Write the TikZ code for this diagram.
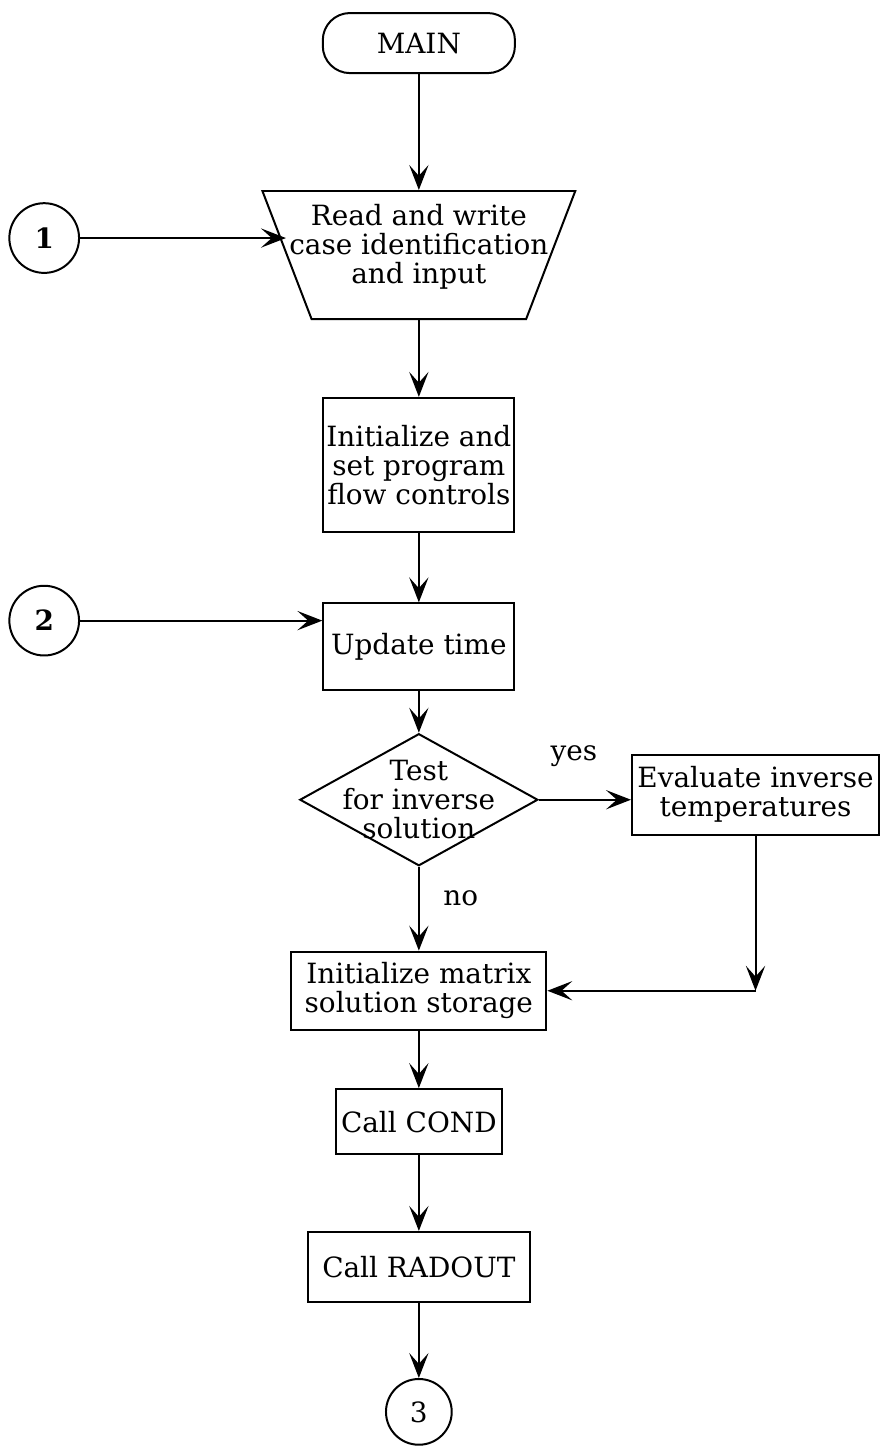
\documentclass[tikz,border=0pt]{standalone}
\usepackage{fontspec}
\setmainfont{DejaVu Serif}
\usetikzlibrary{shapes.geometric,arrows.meta}
\begin{document}
\begin{tikzpicture}[node distance=3cm, line width=1pt, >={Stealth[length=4.4mm,width=3.4mm,inset=1.9mm]}, every node/.style={font=\fontsize{14}{14.5}\selectfont}]
    \tikzstyle{terminal} = [rectangle, rounded corners=0.48cm, minimum width=3.39cm, minimum height=1.06cm, draw, align=center]
    \tikzstyle{io} = [trapezium, shape border rotate=180, trapezium angle=69, trapezium stretches body, minimum width=5.52cm, inner sep=0pt, draw]
    \tikzstyle{process} = [rectangle, minimum width=3.37cm, minimum height=1.4cm, inner sep=1pt, draw, align=center]
    \tikzstyle{decision} = [diamond, minimum width=4.2cm, minimum height=2.33cm, inner sep=0pt, draw]
    \tikzstyle{connector} = [circle, minimum size=1.23cm, inner sep=0pt, draw]
    \useasboundingbox (-7.39,0.76) rectangle (8.22,-24.77);

    % Main line
    \node [terminal] (main) {MAIN};
    \node [io, below of=main, node distance=3.74cm, label={[align=center, yshift=0.15cm]center:Read and write\\case identification\\and input}] (read) {\rule{0pt}{2.26cm}};
    \node [process, below of=read, node distance=3.7cm, minimum height=2.36cm] (init) {Initialize and\\set program\\flow controls};
    \node [process, below of=init, node distance=3.21cm, minimum height=1.53cm] (update) {Update time};
    \node [decision, below of=update, node distance=2.7cm, label={[align=center]center:Test\\for inverse\\solution}] (test) {};
    \node [process, below of=test, node distance=3.37cm, minimum width=4.5cm, minimum height=1.38cm] (matrix) {Initialize matrix\\solution storage};
    \node [process, below of=matrix, node distance=2.31cm, minimum width=2.93cm, minimum height=1.15cm] (cond) {Call COND};
    \node [process, below of=cond, node distance=2.56cm, minimum width=3.92cm, minimum height=1.23cm] (radout) {Call RADOUT};

    % Inverse branch
    \node [process, right of=test, node distance=5.94cm, yshift=0.09cm, minimum width=4.36cm, minimum height=1.41cm] (eval) {Evaluate inverse\\temperatures};
    \coordinate (join) at (eval.south |- matrix.east);

    % Off-page connectors
    \node [connector, left of=read, node distance=6.61cm, yshift=0.3cm] (c1) {\bfseries 1};
    \node [connector, left of=update, node distance=6.61cm, yshift=0.46cm] (c2) {\bfseries 2};
    \node [connector, below of=radout, node distance=2.56cm, minimum size=1.16cm] (c3) {3};

    % Connections
    \draw [->] (main) -- (read);
    \draw [->] (c1) -- (c1 -| read.west);
    \draw [->] (read) -- (init);
    \draw [->] (init) -- (update);
    \draw [->] (c2) -- (c2 -| update.west);
    \draw [->] (update) -- (test);
    \draw [->] (test) -- node[above=0.45cm, pos=0.38] {yes} (test.east -| eval.west);
    \draw [->] (test) -- node[right=0.3cm, pos=0.37] {no} (matrix);
    \draw [->] (eval) -- (join);
    \draw [->] (join) -- (matrix.east);
    \draw [->] (matrix) -- (cond);
    \draw [->] (cond) -- (radout);
    \draw [->] (radout) -- (c3);
\end{tikzpicture}
\end{document}
